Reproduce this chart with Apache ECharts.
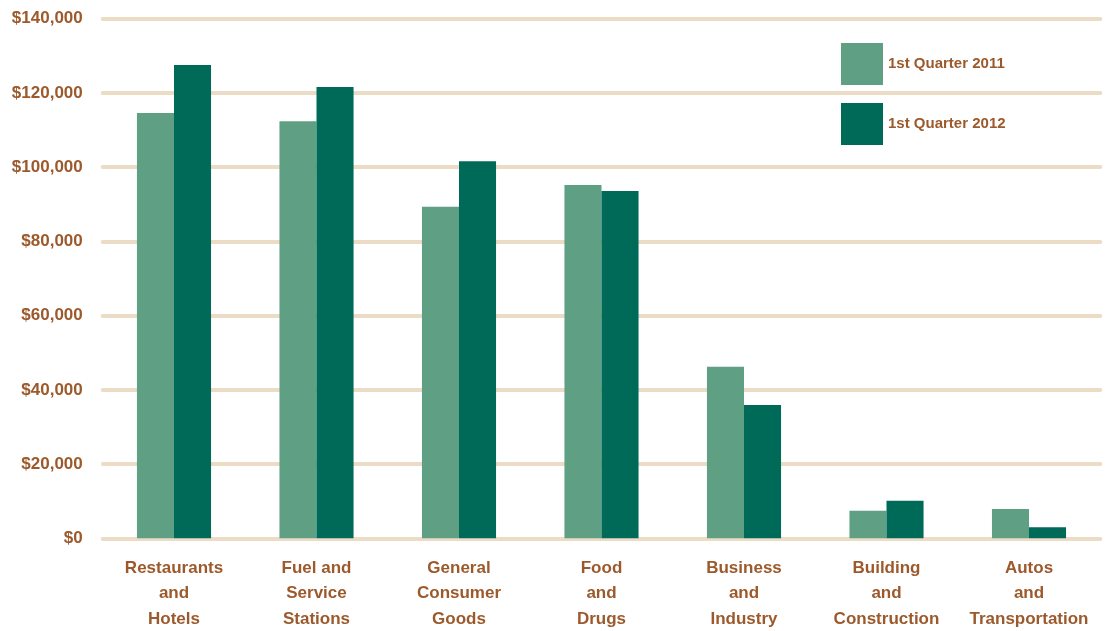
<!DOCTYPE html>
<html>
<head>
<meta charset="utf-8">
<script src="https://cdn.jsdelivr.net/npm/echarts@6/dist/echarts.min.js"></script>
<style>
  html, body { margin: 0; padding: 0; background: #fff; }
  #chart { width: 1109px; height: 631px; }
</style>
</head>
<body>
<div id="chart"></div>
<script>
  // category labels and values (dollars)
  var categories = [
    'Restaurants\nand\nHotels',
    'Fuel and\nService\nStations',
    'General\nConsumer\nGoods',
    'Food\nand\nDrugs',
    'Business\nand\nIndustry',
    'Building\nand\nConstruction',
    'Autos\nand\nTransportation'
  ]
  var q1_2011 = [114600, 112400, 89300, 95200, 46200, 7400, 7900]
  var q1_2012 = [127500, 121600, 101600, 93600, 35900, 10100, 3000]

  var brown = '#9c5a2c'
  var font = '"Liberation Sans", Arial, sans-serif'

  var chart = echarts.init(document.getElementById('chart'))
  chart.setOption({
    animation: false,
    textStyle: { fontFamily: font },
    grid: {
      left: 102.75,
      right: 8.75,
      top: 18.7,
      bottom: 92.7,
      outerBoundsMode: 'none'
    },
    legend: {
      orient: 'vertical',
      left: 841,
      top: 43,
      padding: 0,
      itemWidth: 42,
      itemHeight: 42,
      itemGap: 18,
      icon: 'rect',
      textStyle: {
        color: brown,
        fontFamily: font,
        fontWeight: 'bold',
        fontSize: 15
      },
      data: ['1st Quarter 2011', '1st Quarter 2012']
    },
    xAxis: {
      type: 'category',
      data: categories,
      axisLine: { show: false },
      axisTick: { show: false },
      axisLabel: {
        interval: 0,
        margin: 17,
        color: brown,
        fontFamily: font,
        fontWeight: 'bold',
        fontSize: 17,
        lineHeight: 25.5
      }
    },
    yAxis: {
      type: 'value',
      min: 0,
      max: 140000,
      interval: 20000,
      axisLine: { show: false },
      axisTick: { show: false },
      axisLabel: {
        margin: 20,
        color: brown,
        fontFamily: font,
        fontWeight: 'bold',
        fontSize: 17,
        formatter: function (v) {
          return '$' + v.toLocaleString('en-US')
        }
      },
      splitLine: {
        lineStyle: {
          color: '#ecdcc6',
          width: 4,
          cap: 'round'
        }
      }
    },
    series: [
      {
        name: '1st Quarter 2011',
        type: 'bar',
        data: q1_2011,
        barWidth: '26%',
        barGap: '0%',
        itemStyle: { color: '#5fa084' }
      },
      {
        name: '1st Quarter 2012',
        type: 'bar',
        data: q1_2012,
        barWidth: '26%',
        barGap: '0%',
        itemStyle: { color: '#006a58' }
      }
    ]
  })
</script>
</body>
</html>
